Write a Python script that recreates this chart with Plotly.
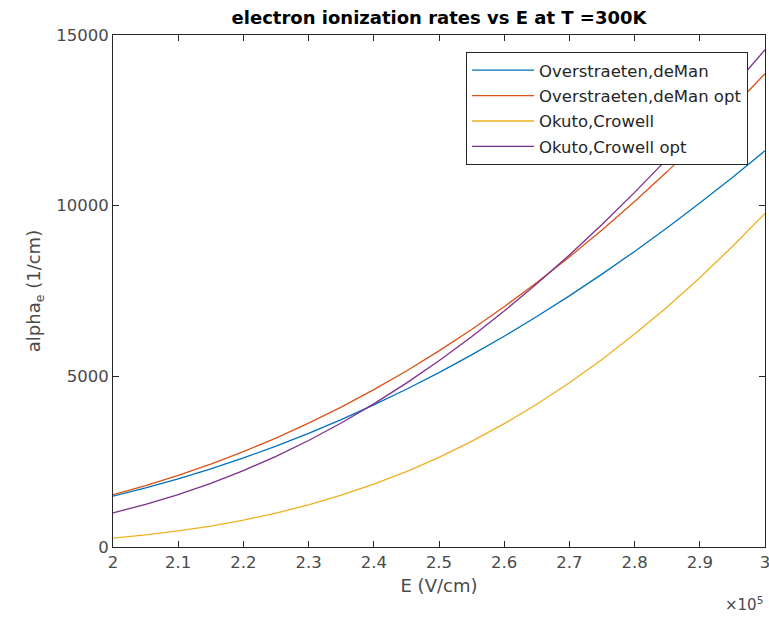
import plotly.graph_objects as go

# E in units of 1e5 V/cm
E = [2.0, 2.05, 2.1, 2.15, 2.2, 2.25, 2.3, 2.35, 2.4, 2.45, 2.5,
     2.55, 2.6, 2.65, 2.7, 2.75, 2.8, 2.85, 2.9, 2.95, 3.0]

overstraeten = [1492, 1733, 1999, 2291, 2610, 2955, 3329, 3731, 4162, 4622, 5110,
                5628, 6175, 6752, 7358, 7994, 8660, 9354, 10077, 10828, 11609]
overstraeten_opt = [1531, 1799, 2098, 2429, 2793, 3192, 3627, 4100, 4609, 5157, 5745,
                    6373, 7041, 7750, 8499, 9290, 10123, 10998, 11913, 12869, 13866]
okuto = [262, 355, 471, 614, 787, 993, 1235, 1518, 1842, 2211, 2628,
         3094, 3613, 4184, 4811, 5494, 6237, 7034, 7890, 8803, 9774]
okuto_opt = [1001, 1249, 1537, 1866, 2239, 2656, 3120, 3633, 4192, 4800, 5455,
             6159, 6912, 7710, 8557, 9451, 10389, 11370, 12395, 13462, 14567]

series_names = ["Overstraeten,deMan", "Overstraeten,deMan opt", "Okuto,Crowell", "Okuto,Crowell opt"]
series_vals = [overstraeten, overstraeten_opt, okuto, okuto_opt]
colors = ["#0072BD", "#D95319", "#EDB120", "#7E2F8E"]

x_ticks = [2.0, 2.1, 2.2, 2.3, 2.4, 2.5, 2.6, 2.7, 2.8, 2.9, 3.0]
x_ticktext = ["2", "2.1", "2.2", "2.3", "2.4", "2.5", "2.6", "2.7", "2.8", "2.9", "3"]
y_ticks = [0, 5000, 10000, 15000]

FONT = "DejaVu Sans"
GRAY = "#262626"
TGRAY = "#4a4a4a"

fig = go.Figure()
for i, (name, vals, c) in enumerate(zip(series_names, series_vals, colors)):
    fig.add_trace(go.Scatter(x=E, y=vals, mode="lines", name=name,
                             line=dict(color=c, width=1.3), legendgroup=f"g{i}"))

fig.update_layout(
    width=769, height=617,
    margin=dict(l=113, r=4, t=35, b=70, autoexpand=False),
    paper_bgcolor="white", plot_bgcolor="white",
    font=dict(family=FONT, size=16, color=TGRAY),
    title=dict(text="<b>electron ionization rates vs E at T =300K</b>",
               x=0.5, xref="paper", y=0.972, yanchor="middle",
               font=dict(family=FONT, size=18, color="#000000")),
    showlegend=True,
    legend=dict(x=0.974, y=0.967, xanchor="right", yanchor="top",
                bgcolor="white", bordercolor=GRAY, borderwidth=1,
                font=dict(family=FONT, size=16.5, color=GRAY),
                itemwidth=62,
                tracegroupgap=1, traceorder="grouped"),
)
fig.update_xaxes(range=[1.99999, 3.00001], tickvals=x_ticks, ticktext=x_ticktext,
                 ticks="inside", ticklen=6, tickcolor=GRAY, showline=True, linecolor=GRAY,
                 linewidth=1, mirror="ticks", showgrid=False, zeroline=False,
                 ticklabeloverflow="allow", automargin=False,
                 tickfont=dict(family=FONT, size=16.5, color=TGRAY),
                 title=dict(text="E (V/cm)", standoff=8, font=dict(family=FONT, size=18, color=TGRAY)))
fig.update_yaxes(range=[0, 15000], tickvals=y_ticks, tickformat="d",
                 ticks="inside", ticklen=6, tickcolor=GRAY, showline=True, linecolor=GRAY,
                 linewidth=1, mirror="ticks", showgrid=False, zeroline=False,
                 automargin=False,
                 tickfont=dict(family=FONT, size=16.5, color=TGRAY),
                 title=dict(text="alpha<sub>e</sub> (1/cm)", standoff=10,
                            font=dict(family=FONT, size=18, color=TGRAY)))
fig.add_annotation(text="×10<sup>5</sup>", xref="paper", yref="paper", x=1.0, y=-0.088,
                   xanchor="right", yanchor="top", showarrow=False,
                   font=dict(family=FONT, size=15, color=TGRAY))

fig.write_html("out.html")
